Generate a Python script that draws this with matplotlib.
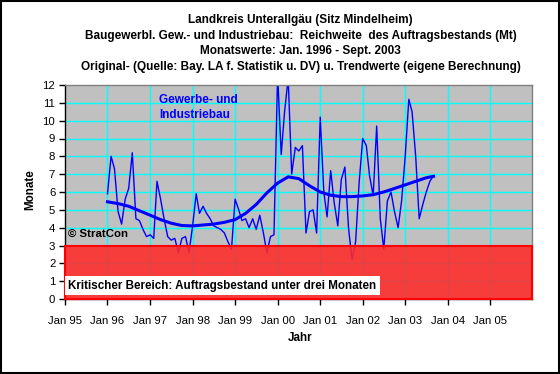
import matplotlib
matplotlib.use('Agg')
import matplotlib.pyplot as plt
import matplotlib.dates as mdates
from matplotlib.patches import Rectangle
import numpy as np
import pandas as pd

plt.rcParams['font.family'] = ['Liberation Sans', 'DejaVu Sans']

# Monatswerte Jan. 1996 - Sept. 2003 (Reichweite in Monaten)
werte = [5.9, 8.0, 7.3, 4.9, 4.2, 5.6, 6.2, 8.2, 4.5, 4.4, 3.9, 3.5,
         3.6, 3.4, 6.6, 5.6, 4.5, 3.5, 3.3, 3.4, 2.6, 3.4, 3.5, 2.6,
         4.1, 5.9, 4.8, 5.2, 4.8, 4.5, 4.1, 4.0, 3.9, 3.7, 3.2, 2.8,
         5.6, 5.0, 4.4, 4.5, 4.0, 4.5, 3.9, 4.7, 3.7, 2.6, 3.5, 3.6,
         12.6, 8.1, 10.5, 12.4, 7.0, 8.5, 8.3, 8.6, 3.7, 4.9, 5.0, 3.7,
         10.2, 6.0, 4.6, 7.2, 5.4, 4.1, 6.7, 7.4, 4.0, 2.2, 3.2, 6.5,
         9.0, 8.6, 6.9, 5.8, 9.7, 4.5, 2.8, 5.5, 6.0, 4.9, 4.0, 5.5,
         8.0, 11.2, 10.5, 8.0, 4.5, 5.3, 6.0, 6.6, 6.9]
monate = pd.date_range('1996-01-01', periods=len(werte), freq='MS')

trend_datum = pd.to_datetime(['1996-01-01', '1996-04-01', '1996-07-01', '1996-10-01',
                              '1997-01-01', '1997-04-01', '1997-07-01', '1997-10-01',
                              '1998-01-01', '1998-04-01', '1998-07-01', '1998-10-01',
                              '1999-01-01', '1999-04-01', '1999-07-01', '1999-10-01',
                              '2000-01-01', '2000-04-01', '2000-07-01', '2000-10-01',
                              '2001-01-01', '2001-04-01', '2001-07-01', '2001-10-01',
                              '2002-01-01', '2002-04-01', '2002-07-01', '2002-10-01',
                              '2003-01-01', '2003-04-01', '2003-07-01', '2003-09-01'])
trend = [5.45, 5.35, 5.2, 4.95, 4.7, 4.45, 4.25, 4.12,
         4.1, 4.15, 4.2, 4.3, 4.45, 4.8, 5.3, 5.95,
         6.5, 6.85, 6.75, 6.35, 6.0, 5.82, 5.74, 5.74,
         5.78, 5.85, 6.0, 6.2, 6.4, 6.6, 6.8, 6.88]

titel = ['Landkreis Unterallgäu (Sitz Mindelheim)',
         'Baugewerbl. Gew.- und Industriebau:  Reichweite  des Auftragsbestands (Mt)',
         'Monatswerte: Jan. 1996 - Sept. 2003',
         'Original- (Quelle: Bay. LA f. Statistik u. DV) u. Trendwerte (eigene Berechnung)']

fig = plt.figure(figsize=(5.6, 3.74), dpi=100)
ax = fig.add_axes([65/560, 1-299/374, 467/560, 214/374])
ax.set_facecolor('#c0c0c0')

x0 = pd.Timestamp('1995-01-01')
x1 = pd.Timestamp('2005-12-25')
ax.set_xlim(x0, x1)
ax.set_ylim(0, 12)

# gitter
for y in range(1, 12):
    ax.axhline(y, color='#00ffff', lw=1, zorder=1)
for j in range(1996, 2006):
    ax.axvline(pd.Timestamp(f'{j}-01-01'), color='#00ffff', lw=1, zorder=1)

ax.plot(monate, werte, color='#0000ff', lw=1, zorder=2)
ax.plot(trend_datum, trend, color='#0000ff', lw=2.2, zorder=2.5)

# kritischer bereich
ax.axhspan(0, 3, facecolor='#ff2a2a', alpha=0.88, edgecolor='none', zorder=3)
ax.add_patch(Rectangle((mdates.date2num(x0), 0), mdates.date2num(x1) - mdates.date2num(x0), 3,
                       fill=False, edgecolor='#ff0000', lw=1.5, zorder=4, clip_on=False))
ax.text(0.0065, 0.063, 'Kritischer Bereich: Auftragsbestand unter drei Monaten',
        transform=ax.transAxes, fontsize=8.4, fontweight='bold', va='center', ha='left',
        bbox=dict(boxstyle='square,pad=0.3', fc='white', ec='none'), zorder=5)

ax.text(0.201, 0.957, 'Gewerbe- und\nIndustriebau', transform=ax.transAxes,
        color='#0000ff', fontsize=8.5, fontweight='bold', va='top', ha='left', linespacing=1.35)
ax.text(0.006, 0.304, '© StratCon', transform=ax.transAxes,
        fontsize=8.2, fontweight='bold', va='center', ha='left', zorder=5)

ax.set_yticks(range(0, 13))
ax.xaxis.set_major_locator(mdates.YearLocator())
ax.xaxis.set_major_formatter(mdates.DateFormatter('%b %y'))
ax.tick_params(labelsize=8.2, length=4, width=1, direction='out', pad=3)
ax.tick_params(axis='x', pad=8)

for s in ['top', 'right']:
    ax.spines[s].set_color('#808080')
    ax.spines[s].set_linewidth(1)
for s in ['left', 'bottom']:
    ax.spines[s].set_color('black')
    ax.spines[s].set_linewidth(1)

for i, t in enumerate(titel):
    fig.text(0.537, 1 - (20 + i*15.7)/374, t, ha='center', va='center',
             fontsize=8.5, fontweight='bold')

fig.text(30/560, 1 - 190/374, 'Monate', rotation=90, ha='center', va='center',
         fontsize=8.4, fontweight='bold')
fig.text(300/560, 1 - 338/374, 'Jahr', ha='center', va='center',
         fontsize=8.4, fontweight='bold')

fig.patches.append(Rectangle((0.001, 0.002), 0.997, 0.996, transform=fig.transFigure,
                             fill=False, edgecolor='black', lw=1.5))

fig.savefig('out.png', dpi=100)
